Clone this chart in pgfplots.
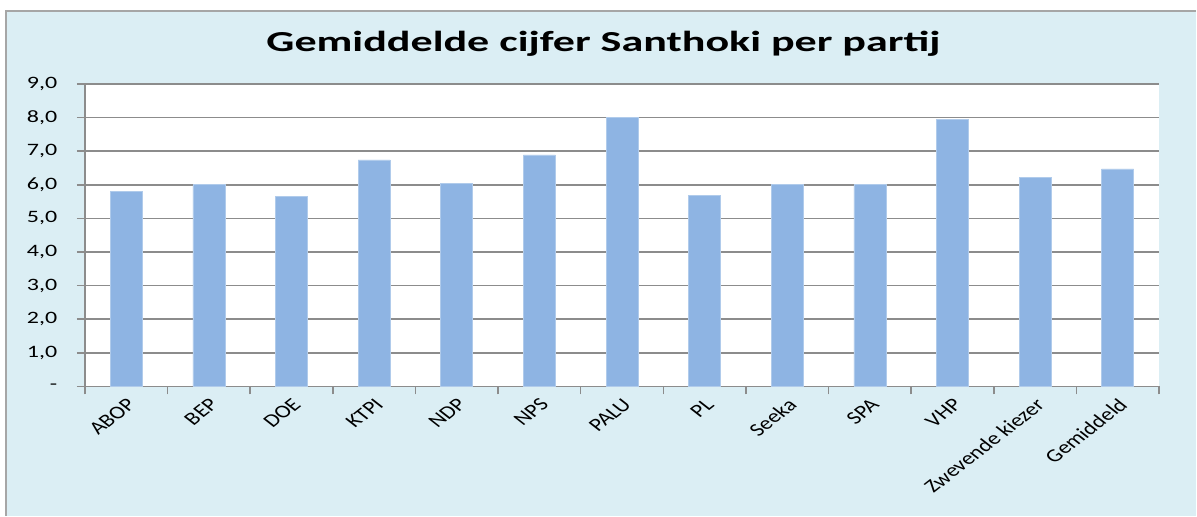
\documentclass[border=0pt]{standalone}
\usepackage{fontspec}
\setmainfont{Carlito}
\usepackage{pgfplots}
\pgfplotsset{compat=1.18}
\definecolor{bgblue}{HTML}{DBEEF4}
\definecolor{barblue}{HTML}{8EB4E3}
\definecolor{gridgray}{HTML}{8C8C8C}
\definecolor{framegray}{HTML}{A6A6A6}
\begin{document}
\begin{tikzpicture}[x=1pt,y=1pt]
\fill[white] (0,0) rectangle (598.5,258);
\fill[bgblue] (3.25,0) rectangle (598.5,252.5);
\draw[framegray,line width=1pt] (3.25,0) -- (3.25,252.5) -- (598.5,252.5);
\node[font=\bfseries\fontsize{14.5}{16}\selectfont, anchor=base, xscale=1.52] at (302,232) {Gemiddelde cijfer Santhoki per partij};
\begin{axis}[
  at={(42.5pt,64.65pt)}, anchor=south west,
  scale only axis, width=537.5pt, height=151.35pt,
  xmin=-0.5, xmax=12.5, ymin=0, ymax=9,
  axis background/.style={fill=white},
  axis x line*=bottom, axis y line*=left,
  axis line style={gridgray, line width=0.8pt},
  ybar, bar width=16pt,
  xtick={0,...,12},
  xticklabels={ABOP,BEP,DOE,KTPI,NDP,NPS,PALU,PL,Seeka,SPA,VHP,Zwevende kiezer,Gemiddeld},
  minor xtick={-0.5,0.5,...,12.5},
  major x tick style={draw=none},
  minor x tick style={gridgray, line width=0.8pt},
  ytick={0,...,9},
  yticklabels={{-},{1,0},{2,0},{3,0},{4,0},{5,0},{6,0},{7,0},{8,0},{9,0}},
  y tick style={gridgray, line width=0.8pt},
  tick align=outside, major tick length=4pt, minor tick length=4pt,
  ymajorgrids, grid style={gridgray, line width=0.8pt},
  xticklabel style={font=\fontsize{9.2}{10}\selectfont, xscale=1.28, rotate=45, anchor=east, inner sep=1pt, yshift=-4pt},
  yticklabel style={font=\fontsize{8.7}{10}\selectfont, xshift=-5pt, xscale=1.38},
  /pgf/number format/assume math mode=true,
  clip=false,
]
\addplot[fill=barblue, draw=barblue!70!white, line width=0.3pt] coordinates {
(0,5.81) (1,6.00) (2,5.66) (3,6.74) (4,6.04) (5,6.89) (6,8.00) (7,5.69) (8,6.00) (9,6.00) (10,7.94) (11,6.23) (12,6.47)
};
\end{axis}
\end{tikzpicture}
\end{document}
